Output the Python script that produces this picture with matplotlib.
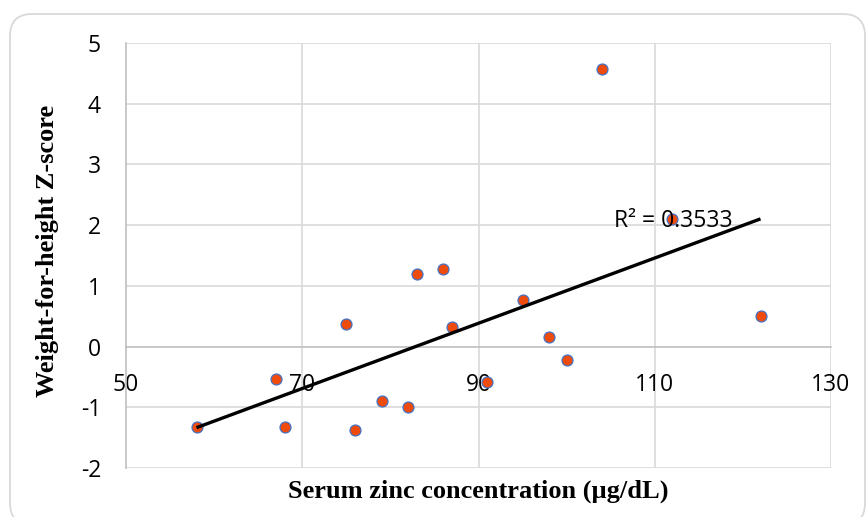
import numpy as np
import matplotlib
matplotlib.use("Agg")
import matplotlib.pyplot as plt
from matplotlib.patches import FancyBboxPatch

# serum zinc (ug/dL) vs weight-for-height z-score
zinc = [58, 67, 68, 75, 76, 79, 82, 83, 86, 87, 91, 95, 98, 100, 104, 112, 122]
whz = [-1.33, -0.53, -1.33, 0.37, -1.38, -0.90, -0.99, 1.20, 1.28, 0.32,
       -0.59, 0.77, 0.15, -0.22, 4.58, 2.10, 0.50]
x_ticks = [50, 70, 90, 110, 130]
y_ticks = [-2, -1, 0, 1, 2, 3, 4, 5]
r2_label = "R² = 0.3533"

plt.rcParams["axes.unicode_minus"] = False

W, H = 867, 517
fig = plt.figure(figsize=(W / 100, H / 100), dpi=100)
ax = fig.add_axes([126 / W, 1 - 468 / H, (831 - 126) / W, (468 - 43) / H])

tick_font = "Open Sans"
title_font = "Liberation Serif"

ax.set_xlim(50, 130)
ax.set_ylim(-2, 5)

# grid
for v in x_ticks[1:]:
    ax.axvline(v, color="#D9D9D9", lw=1.2, zorder=0)
for v in y_ticks:
    if v != 0:
        ax.axhline(v, color="#D9D9D9", lw=1.2, zorder=0)

for s in ["top", "right"]:
    ax.spines[s].set_visible(False)
ax.spines["left"].set_color("#BFBFBF")
ax.spines["left"].set_linewidth(1.2)
ax.spines["bottom"].set_position(("data", 0))
ax.spines["bottom"].set_color("#BFBFBF")
ax.spines["bottom"].set_linewidth(1.2)

ax.set_xticks(x_ticks)
ax.set_yticks(y_ticks)
ax.tick_params(axis="both", length=0)
ax.tick_params(axis="x", pad=19)
ax.tick_params(axis="y", pad=18)
for lab in ax.get_xticklabels() + ax.get_yticklabels():
    lab.set_fontfamily(tick_font)
    lab.set_fontsize(16.5)

# points
ax.scatter(zinc, whz, s=62, color="#EE4B0C", edgecolors="#4472C4",
           linewidths=0.9, zorder=3)

# linear trendline
coef = np.polyfit(zinc, whz, 1)
xs = np.array([min(zinc), max(zinc)])
ax.plot(xs, np.polyval(coef, xs), color="black", lw=2.4, zorder=4,
        solid_capstyle="butt")
ax.text(105.4, 2.07, r2_label, fontfamily=tick_font, fontsize=16.5,
        ha="left", va="center", zorder=5)

fig.text(478 / W, 1 - 491 / H, "Serum zinc concentration (µg/dL)",
         fontfamily=title_font, fontweight="bold", fontsize=19,
         ha="center", va="center")
fig.text(48 / W, 1 - 251 / H, "Weight-for-height Z-score",
         fontfamily=title_font, fontweight="bold", fontsize=19,
         ha="center", va="center", rotation=90)

# rounded chart border (bottom runs off the image)
border = FancyBboxPatch((10, -8), 855, 511, boxstyle="round,pad=0,rounding_size=22",
                        transform=None, facecolor="none", edgecolor="#D9D9D9", lw=1.3)
fig.patches.append(border)

fig.savefig("out.png", dpi=100)
